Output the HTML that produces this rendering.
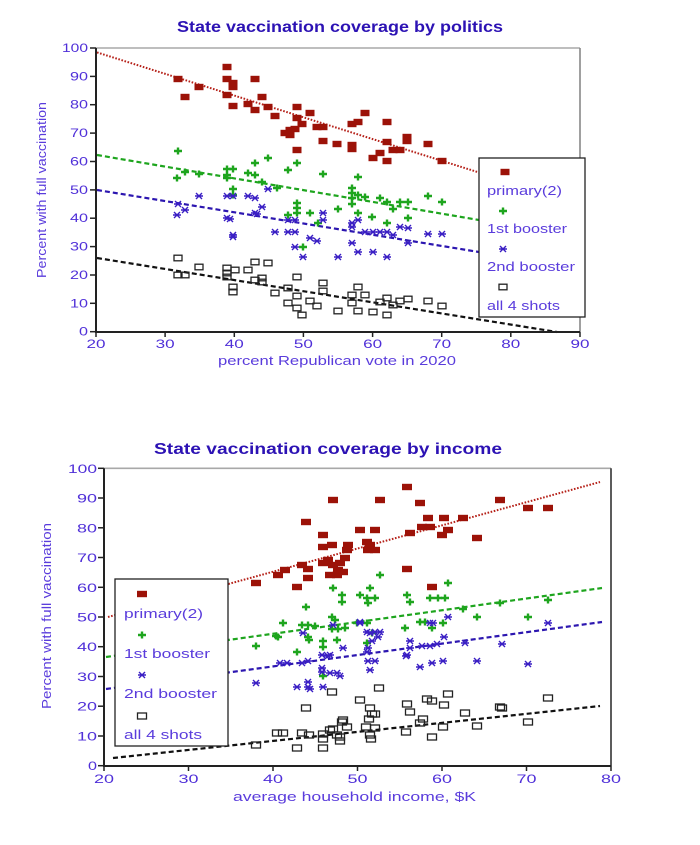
<!DOCTYPE html>
<html><head><meta charset="utf-8"><style>
html,body{margin:0;padding:0;background:#fff;}
svg{display:block;}
text{font-family:"Liberation Sans",Arial,sans-serif;}
.tk{font-size:12px;fill:#4f2fd8;}
.lb{font-size:13px;fill:#5a3cdc;}
.tt{font-size:16px;font-weight:bold;fill:#2c12b4;}
.lg{font-size:13px;fill:#5a3cdc;}
</style></head><body>
<svg width="700" height="845" viewBox="0 0 700 845" xmlns="http://www.w3.org/2000/svg" xmlns:xlink="http://www.w3.org/1999/xlink">
<defs>
<rect id="rs" x="-4.5" y="-3.2" width="9" height="6.4" fill="#9c1208"/>
<rect id="rb" x="-5" y="-3.2" width="10" height="6.4" fill="#9c1208"/>
<path id="gp" d="M-4,0H4M0,-3.5V3.5" stroke="#1ea51e" stroke-width="2.4" fill="none"/>
<path id="ba" d="M-4,0H4M-3,-3L3,3M-3,3L3,-3" stroke="#3a1fc4" stroke-width="1.4" fill="none"/>
<rect id="ks" x="-4" y="-2.8" width="8" height="5.6" fill="none" stroke="#222" stroke-width="1.3"/>
<rect id="kb" x="-4.5" y="-3" width="9" height="6" fill="none" stroke="#222" stroke-width="1.3"/>
</defs>
<rect width="700" height="845" fill="#fff"/>

<!-- ================= TOP CHART ================= -->
<text class="tt" x="177" y="32" textLength="326" lengthAdjust="spacingAndGlyphs">State vaccination coverage by politics</text>

<line x1="96" y1="48" x2="580" y2="48" stroke="#a8a8a8" stroke-width="1.6"/>
<line x1="580" y1="48" x2="580" y2="332" stroke="#888" stroke-width="1.6"/>

<!-- y ticks -->
<g stroke="#222" stroke-width="1.5">
<line x1="90" y1="331.7" x2="96" y2="331.7"/><line x1="90" y1="303.3" x2="96" y2="303.3"/>
<line x1="90" y1="275" x2="96" y2="275"/><line x1="90" y1="246.6" x2="96" y2="246.6"/>
<line x1="90" y1="218.2" x2="96" y2="218.2"/><line x1="90" y1="189.9" x2="96" y2="189.9"/>
<line x1="90" y1="161.5" x2="96" y2="161.5"/><line x1="90" y1="133.1" x2="96" y2="133.1"/>
<line x1="90" y1="104.7" x2="96" y2="104.7"/><line x1="90" y1="76.4" x2="96" y2="76.4"/>
<line x1="90" y1="48" x2="96" y2="48"/>
<line x1="96" y1="332" x2="96" y2="337"/><line x1="165.1" y1="332" x2="165.1" y2="337"/>
<line x1="234.3" y1="332" x2="234.3" y2="337"/><line x1="303.4" y1="332" x2="303.4" y2="337"/>
<line x1="372.6" y1="332" x2="372.6" y2="337"/><line x1="441.7" y1="332" x2="441.7" y2="337"/>
<line x1="510.8" y1="332" x2="510.8" y2="337"/><line x1="580" y1="332" x2="580" y2="337"/>
</g>
<g class="tk" text-anchor="end">
<text x="88" y="335.7" textLength="9" lengthAdjust="spacingAndGlyphs">0</text>
<text x="88" y="307.3" textLength="18" lengthAdjust="spacingAndGlyphs">10</text>
<text x="88" y="279" textLength="18" lengthAdjust="spacingAndGlyphs">20</text>
<text x="88" y="250.6" textLength="18" lengthAdjust="spacingAndGlyphs">30</text>
<text x="88" y="222.2" textLength="18" lengthAdjust="spacingAndGlyphs">40</text>
<text x="88" y="193.9" textLength="18" lengthAdjust="spacingAndGlyphs">50</text>
<text x="88" y="165.5" textLength="18" lengthAdjust="spacingAndGlyphs">60</text>
<text x="88" y="137.1" textLength="18" lengthAdjust="spacingAndGlyphs">70</text>
<text x="88" y="108.7" textLength="18" lengthAdjust="spacingAndGlyphs">80</text>
<text x="88" y="80.4" textLength="18" lengthAdjust="spacingAndGlyphs">90</text>
<text x="88" y="52" textLength="26" lengthAdjust="spacingAndGlyphs">100</text>
</g>
<g class="tk" text-anchor="middle">
<text x="96" y="348" textLength="19" lengthAdjust="spacingAndGlyphs">20</text>
<text x="165.1" y="348" textLength="19" lengthAdjust="spacingAndGlyphs">30</text>
<text x="234.3" y="348" textLength="19" lengthAdjust="spacingAndGlyphs">40</text>
<text x="303.4" y="348" textLength="19" lengthAdjust="spacingAndGlyphs">50</text>
<text x="372.6" y="348" textLength="19" lengthAdjust="spacingAndGlyphs">60</text>
<text x="441.7" y="348" textLength="19" lengthAdjust="spacingAndGlyphs">70</text>
<text x="510.8" y="348" textLength="19" lengthAdjust="spacingAndGlyphs">80</text>
<text x="580" y="348" textLength="19" lengthAdjust="spacingAndGlyphs">90</text>
</g>
<text class="lb" x="218" y="365" textLength="238" lengthAdjust="spacingAndGlyphs">percent Republican vote in 2020</text>
<text class="lb" transform="translate(46,278) rotate(-90)" x="0" y="0" textLength="176" lengthAdjust="spacingAndGlyphs">Percent with full vaccination</text>

<!-- top trend lines -->
<line x1="97" y1="52.4" x2="479" y2="172.5" stroke="#b52018" stroke-width="2" stroke-dasharray="1.6 1.6"/>
<line x1="97" y1="155" x2="479" y2="220" stroke="#1ea51e" stroke-width="2.2" stroke-dasharray="5 3"/>
<line x1="97" y1="190" x2="479" y2="252" stroke="#2c16b0" stroke-width="2.2" stroke-dasharray="5 3"/>
<line x1="97" y1="258" x2="557" y2="332" stroke="#111" stroke-width="2.2" stroke-dasharray="5 3"/>

<!-- top red -->
<g>
<use href="#rs" x="178" y="79"/><use href="#rs" x="185" y="97"/><use href="#rs" x="199" y="87"/><use href="#rs" x="227" y="67"/>
<use href="#rs" x="227" y="79"/><use href="#rs" x="233" y="83"/><use href="#rs" x="233" y="87"/><use href="#rs" x="227" y="95"/>
<use href="#rs" x="233" y="106"/><use href="#rs" x="248" y="104"/><use href="#rs" x="255" y="79"/><use href="#rs" x="255" y="110"/>
<use href="#rs" x="262" y="97"/><use href="#rs" x="268" y="107"/><use href="#rs" x="275" y="116"/><use href="#rs" x="290" y="130"/>
<use href="#rs" x="290" y="135"/><use href="#rs" x="295" y="129"/><use href="#rs" x="285" y="133"/><use href="#rs" x="297" y="107"/>
<use href="#rs" x="297" y="118"/><use href="#rs" x="297" y="150"/><use href="#rs" x="302" y="124"/><use href="#rs" x="310" y="113"/>
<use href="#rs" x="317" y="127"/><use href="#rs" x="323" y="127"/><use href="#rs" x="323" y="141"/><use href="#rs" x="337" y="144"/>
<use href="#rs" x="352" y="145"/><use href="#rs" x="352" y="149"/><use href="#rs" x="352" y="124"/><use href="#rs" x="358" y="122"/>
<use href="#rs" x="365" y="113"/><use href="#rs" x="387" y="122"/><use href="#rs" x="373" y="158"/><use href="#rs" x="380" y="153"/>
<use href="#rs" x="387" y="161"/><use href="#rs" x="387" y="142"/><use href="#rs" x="393" y="150"/><use href="#rs" x="400" y="150"/>
<use href="#rs" x="407" y="141"/><use href="#rs" x="407" y="137"/><use href="#rs" x="428" y="144"/><use href="#rs" x="442" y="161"/>
</g>
<!-- top green -->
<g>
<use href="#gp" x="178" y="151"/><use href="#gp" x="177" y="178"/><use href="#gp" x="185" y="172"/><use href="#gp" x="199" y="174"/>
<use href="#gp" x="227" y="169"/><use href="#gp" x="233" y="169"/><use href="#gp" x="227" y="175"/><use href="#gp" x="227" y="178"/>
<use href="#gp" x="233" y="189"/><use href="#gp" x="233" y="195"/><use href="#gp" x="248" y="173"/><use href="#gp" x="255" y="175"/>
<use href="#gp" x="255" y="163"/><use href="#gp" x="262" y="182"/><use href="#gp" x="268" y="158"/><use href="#gp" x="277" y="188"/>
<use href="#gp" x="288" y="170"/><use href="#gp" x="297" y="163"/><use href="#gp" x="323" y="174"/><use href="#gp" x="297" y="203"/>
<use href="#gp" x="297" y="208"/><use href="#gp" x="297" y="213"/><use href="#gp" x="288" y="215"/><use href="#gp" x="310" y="213"/>
<use href="#gp" x="303" y="247"/><use href="#gp" x="318" y="223"/><use href="#gp" x="338" y="209"/><use href="#gp" x="358" y="177"/>
<use href="#gp" x="352" y="188"/><use href="#gp" x="352" y="193"/><use href="#gp" x="352" y="198"/><use href="#gp" x="352" y="204"/>
<use href="#gp" x="358" y="195"/><use href="#gp" x="365" y="197"/><use href="#gp" x="358" y="213"/><use href="#gp" x="372" y="217"/>
<use href="#gp" x="380" y="198"/><use href="#gp" x="387" y="202"/><use href="#gp" x="387" y="223"/><use href="#gp" x="393" y="209"/>
<use href="#gp" x="400" y="202"/><use href="#gp" x="408" y="202"/><use href="#gp" x="408" y="218"/><use href="#gp" x="428" y="196"/>
<use href="#gp" x="442" y="202"/>
</g>
<!-- top blue -->
<g>
<use href="#ba" x="178" y="204"/><use href="#ba" x="177" y="215"/><use href="#ba" x="185" y="210"/><use href="#ba" x="199" y="196"/>
<use href="#ba" x="227" y="196"/><use href="#ba" x="233" y="196"/><use href="#ba" x="227" y="218"/><use href="#ba" x="230" y="219"/>
<use href="#ba" x="233" y="235"/><use href="#ba" x="233" y="237"/><use href="#ba" x="248" y="196"/><use href="#ba" x="255" y="198"/>
<use href="#ba" x="255" y="213"/><use href="#ba" x="257" y="214"/><use href="#ba" x="262" y="207"/><use href="#ba" x="268" y="189"/>
<use href="#ba" x="275" y="232"/><use href="#ba" x="288" y="220"/><use href="#ba" x="295" y="220"/><use href="#ba" x="288" y="232"/>
<use href="#ba" x="295" y="232"/><use href="#ba" x="295" y="247"/><use href="#ba" x="303" y="257"/><use href="#ba" x="310" y="238"/>
<use href="#ba" x="317" y="241"/><use href="#ba" x="323" y="213"/><use href="#ba" x="323" y="220"/><use href="#ba" x="338" y="257"/>
<use href="#ba" x="352" y="223"/><use href="#ba" x="352" y="227"/><use href="#ba" x="352" y="243"/><use href="#ba" x="358" y="220"/>
<use href="#ba" x="358" y="252"/><use href="#ba" x="365" y="232"/><use href="#ba" x="373" y="232"/><use href="#ba" x="380" y="232"/>
<use href="#ba" x="373" y="252"/><use href="#ba" x="387" y="232"/><use href="#ba" x="393" y="235"/><use href="#ba" x="387" y="257"/>
<use href="#ba" x="400" y="227"/><use href="#ba" x="408" y="228"/><use href="#ba" x="408" y="243"/><use href="#ba" x="428" y="234"/>
<use href="#ba" x="442" y="234"/>
</g>
<!-- top black -->
<g>
<use href="#ks" x="178" y="258"/><use href="#ks" x="178" y="275"/><use href="#ks" x="185" y="275"/><use href="#ks" x="199" y="267"/>
<use href="#ks" x="227" y="268"/><use href="#ks" x="227" y="273"/><use href="#ks" x="235" y="270"/><use href="#ks" x="227" y="277"/>
<use href="#ks" x="233" y="287"/><use href="#ks" x="233" y="292"/><use href="#ks" x="248" y="270"/><use href="#ks" x="255" y="262"/>
<use href="#ks" x="255" y="280"/><use href="#ks" x="262" y="278"/><use href="#ks" x="262" y="282"/><use href="#ks" x="268" y="263"/>
<use href="#ks" x="275" y="293"/><use href="#ks" x="288" y="288"/><use href="#ks" x="288" y="303"/><use href="#ks" x="297" y="277"/>
<use href="#ks" x="297" y="296"/><use href="#ks" x="297" y="308"/><use href="#ks" x="302" y="315"/><use href="#ks" x="310" y="301"/>
<use href="#ks" x="317" y="306"/><use href="#ks" x="323" y="283"/><use href="#ks" x="323" y="291"/><use href="#ks" x="338" y="311"/>
<use href="#ks" x="352" y="295"/><use href="#ks" x="352" y="303"/><use href="#ks" x="358" y="287"/><use href="#ks" x="358" y="311"/>
<use href="#ks" x="365" y="295"/><use href="#ks" x="373" y="312"/><use href="#ks" x="380" y="302"/><use href="#ks" x="387" y="298"/>
<use href="#ks" x="387" y="315"/><use href="#ks" x="393" y="305"/><use href="#ks" x="400" y="301"/><use href="#ks" x="408" y="299"/>
<use href="#ks" x="428" y="301"/><use href="#ks" x="442" y="306"/>
</g>

<line x1="96" y1="48" x2="96" y2="332" stroke="#222" stroke-width="2"/>
<line x1="95" y1="332" x2="580" y2="332" stroke="#222" stroke-width="2"/>

<!-- top legend -->
<rect x="479" y="158" width="106" height="159" fill="#fff" stroke="#222" stroke-width="1.3"/>
<use href="#rs" x="505" y="172"/>
<text class="lg" x="487" y="195" textLength="75" lengthAdjust="spacingAndGlyphs">primary(2)</text>
<use href="#gp" x="503" y="211"/>
<text class="lg" x="487" y="233" textLength="80" lengthAdjust="spacingAndGlyphs">1st booster</text>
<use href="#ba" x="503" y="249"/>
<text class="lg" x="487" y="271" textLength="88" lengthAdjust="spacingAndGlyphs">2nd booster</text>
<use href="#ks" x="503" y="287"/>
<text class="lg" x="487" y="310" textLength="73" lengthAdjust="spacingAndGlyphs">all 4 shots</text>

<!-- ================= BOTTOM CHART ================= -->
<text class="tt" x="154" y="454" textLength="348" lengthAdjust="spacingAndGlyphs">State vaccination coverage by income</text>

<line x1="104" y1="468.3" x2="611" y2="468.3" stroke="#a8a8a8" stroke-width="1.6"/>
<line x1="611" y1="468.3" x2="611" y2="766" stroke="#333" stroke-width="1.6"/>

<g stroke="#222" stroke-width="1.5">
<line x1="98" y1="765.7" x2="104" y2="765.7"/><line x1="98" y1="736" x2="104" y2="736"/>
<line x1="98" y1="706.2" x2="104" y2="706.2"/><line x1="98" y1="676.5" x2="104" y2="676.5"/>
<line x1="98" y1="646.7" x2="104" y2="646.7"/><line x1="98" y1="617" x2="104" y2="617"/>
<line x1="98" y1="587.3" x2="104" y2="587.3"/><line x1="98" y1="557.5" x2="104" y2="557.5"/>
<line x1="98" y1="527.8" x2="104" y2="527.8"/><line x1="98" y1="498" x2="104" y2="498"/>
<line x1="98" y1="468.3" x2="104" y2="468.3"/>
<line x1="104" y1="766" x2="104" y2="771"/><line x1="188.5" y1="766" x2="188.5" y2="771"/>
<line x1="273" y1="766" x2="273" y2="771"/><line x1="357.5" y1="766" x2="357.5" y2="771"/>
<line x1="442" y1="766" x2="442" y2="771"/><line x1="526.5" y1="766" x2="526.5" y2="771"/>
<line x1="611" y1="766" x2="611" y2="771"/>
</g>
<g class="tk" text-anchor="end">
<text x="97" y="770.2" textLength="9" lengthAdjust="spacingAndGlyphs">0</text>
<text x="97" y="740.5" textLength="20" lengthAdjust="spacingAndGlyphs">10</text>
<text x="97" y="710.7" textLength="20" lengthAdjust="spacingAndGlyphs">20</text>
<text x="97" y="681" textLength="20" lengthAdjust="spacingAndGlyphs">30</text>
<text x="97" y="651.2" textLength="20" lengthAdjust="spacingAndGlyphs">40</text>
<text x="97" y="621.5" textLength="20" lengthAdjust="spacingAndGlyphs">50</text>
<text x="97" y="591.8" textLength="20" lengthAdjust="spacingAndGlyphs">60</text>
<text x="97" y="562" textLength="20" lengthAdjust="spacingAndGlyphs">70</text>
<text x="97" y="532.3" textLength="20" lengthAdjust="spacingAndGlyphs">80</text>
<text x="97" y="502.5" textLength="20" lengthAdjust="spacingAndGlyphs">90</text>
<text x="97" y="472.8" textLength="29" lengthAdjust="spacingAndGlyphs">100</text>
</g>
<g class="tk" text-anchor="middle">
<text x="104" y="783" textLength="20" lengthAdjust="spacingAndGlyphs">20</text>
<text x="188.5" y="783" textLength="20" lengthAdjust="spacingAndGlyphs">30</text>
<text x="273" y="783" textLength="20" lengthAdjust="spacingAndGlyphs">40</text>
<text x="357.5" y="783" textLength="20" lengthAdjust="spacingAndGlyphs">50</text>
<text x="442" y="783" textLength="20" lengthAdjust="spacingAndGlyphs">60</text>
<text x="526.5" y="783" textLength="20" lengthAdjust="spacingAndGlyphs">70</text>
<text x="611" y="783" textLength="20" lengthAdjust="spacingAndGlyphs">80</text>
</g>
<text class="lb" x="233" y="801" textLength="243" lengthAdjust="spacingAndGlyphs">average household income, $K</text>
<text class="lb" transform="translate(51,709) rotate(-90)" x="0" y="0" textLength="186" lengthAdjust="spacingAndGlyphs">Percent with full vaccination</text>

<!-- bottom trend lines -->
<line x1="108" y1="617" x2="600" y2="482" stroke="#b52018" stroke-width="2" stroke-dasharray="1.6 1.6"/>
<line x1="106" y1="657" x2="602" y2="588" stroke="#1ea51e" stroke-width="2.2" stroke-dasharray="5 3"/>
<line x1="106" y1="689" x2="602" y2="622" stroke="#2c16b0" stroke-width="2.2" stroke-dasharray="5 3"/>
<line x1="113" y1="758" x2="600" y2="706" stroke="#111" stroke-width="2.2" stroke-dasharray="5 3"/>

<!-- bottom red -->
<g>
<use href="#rb" x="256" y="583"/><use href="#rb" x="278" y="575"/><use href="#rb" x="285" y="570"/><use href="#rb" x="302" y="565"/>
<use href="#rb" x="308" y="569"/><use href="#rb" x="308" y="578"/><use href="#rb" x="297" y="587"/><use href="#rb" x="306" y="522"/>
<use href="#rb" x="323" y="535"/><use href="#rb" x="323" y="547"/><use href="#rb" x="332" y="545"/><use href="#rb" x="323" y="563"/>
<use href="#rb" x="333" y="500"/><use href="#rb" x="328" y="560"/><use href="#rb" x="333" y="565"/><use href="#rb" x="338" y="570"/>
<use href="#rb" x="343" y="572"/><use href="#rb" x="330" y="575"/><use href="#rb" x="337" y="575"/><use href="#rb" x="345" y="558"/>
<use href="#rb" x="347" y="550"/><use href="#rb" x="348" y="545"/><use href="#rb" x="340" y="563"/><use href="#rb" x="360" y="530"/>
<use href="#rb" x="375" y="530"/><use href="#rb" x="367" y="542"/><use href="#rb" x="370" y="545"/><use href="#rb" x="368" y="550"/>
<use href="#rb" x="375" y="550"/><use href="#rb" x="380" y="500"/><use href="#rb" x="407" y="487"/><use href="#rb" x="420" y="503"/>
<use href="#rb" x="407" y="569"/><use href="#rb" x="410" y="533"/><use href="#rb" x="422" y="527"/><use href="#rb" x="430" y="527"/>
<use href="#rb" x="428" y="518"/><use href="#rb" x="444" y="518"/><use href="#rb" x="442" y="535"/><use href="#rb" x="448" y="530"/>
<use href="#rb" x="432" y="587"/><use href="#rb" x="463" y="518"/><use href="#rb" x="477" y="538"/><use href="#rb" x="500" y="500"/>
<use href="#rb" x="528" y="508"/><use href="#rb" x="548" y="508"/>
</g>
<!-- bottom green -->
<g>
<use href="#gp" x="256" y="646"/><use href="#gp" x="278" y="637"/><use href="#gp" x="283" y="623"/><use href="#gp" x="297" y="652"/>
<use href="#gp" x="302" y="625"/><use href="#gp" x="308" y="625"/><use href="#gp" x="306" y="607"/><use href="#gp" x="308" y="637"/>
<use href="#gp" x="309" y="640"/><use href="#gp" x="323" y="641"/><use href="#gp" x="323" y="647"/><use href="#gp" x="323" y="676"/>
<use href="#gp" x="332" y="617"/><use href="#gp" x="335" y="620"/><use href="#gp" x="332" y="629"/><use href="#gp" x="338" y="629"/>
<use href="#gp" x="333" y="588"/><use href="#gp" x="342" y="595"/><use href="#gp" x="342" y="602"/><use href="#gp" x="345" y="628"/>
<use href="#gp" x="337" y="640"/><use href="#gp" x="360" y="595"/><use href="#gp" x="367" y="598"/><use href="#gp" x="375" y="598"/>
<use href="#gp" x="368" y="603"/><use href="#gp" x="370" y="588"/><use href="#gp" x="357" y="623"/><use href="#gp" x="367" y="623"/>
<use href="#gp" x="367" y="643"/><use href="#gp" x="372" y="633"/><use href="#gp" x="380" y="575"/><use href="#gp" x="407" y="595"/>
<use href="#gp" x="410" y="602"/><use href="#gp" x="405" y="628"/><use href="#gp" x="420" y="622"/><use href="#gp" x="425" y="622"/>
<use href="#gp" x="430" y="598"/><use href="#gp" x="438" y="598"/><use href="#gp" x="445" y="598"/><use href="#gp" x="432" y="628"/>
<use href="#gp" x="443" y="623"/><use href="#gp" x="448" y="583"/><use href="#gp" x="463" y="609"/><use href="#gp" x="477" y="617"/>
<use href="#gp" x="500" y="603"/><use href="#gp" x="528" y="617"/><use href="#gp" x="548" y="600"/><use href="#gp" x="315" y="626"/>
<use href="#gp" x="276" y="636"/>
</g>
<!-- bottom blue -->
<g>
<use href="#ba" x="256" y="683"/><use href="#ba" x="297" y="687"/><use href="#ba" x="308" y="687"/><use href="#ba" x="308" y="682"/>
<use href="#ba" x="323" y="687"/><use href="#ba" x="310" y="689"/><use href="#ba" x="303" y="633"/><use href="#ba" x="280" y="663"/>
<use href="#ba" x="287" y="663"/><use href="#ba" x="302" y="663"/><use href="#ba" x="308" y="661"/><use href="#ba" x="322" y="668"/>
<use href="#ba" x="322" y="672"/><use href="#ba" x="330" y="673"/><use href="#ba" x="322" y="655"/><use href="#ba" x="328" y="656"/>
<use href="#ba" x="333" y="625"/><use href="#ba" x="337" y="673"/><use href="#ba" x="340" y="676"/><use href="#ba" x="343" y="648"/>
<use href="#ba" x="330" y="655"/><use href="#ba" x="360" y="623"/><use href="#ba" x="367" y="652"/><use href="#ba" x="368" y="661"/>
<use href="#ba" x="375" y="661"/><use href="#ba" x="370" y="670"/><use href="#ba" x="372" y="641"/><use href="#ba" x="380" y="632"/>
<use href="#ba" x="367" y="632"/><use href="#ba" x="375" y="632"/><use href="#ba" x="378" y="637"/><use href="#ba" x="407" y="655"/>
<use href="#ba" x="410" y="641"/><use href="#ba" x="420" y="667"/><use href="#ba" x="432" y="663"/><use href="#ba" x="443" y="661"/>
<use href="#ba" x="422" y="646"/><use href="#ba" x="430" y="646"/><use href="#ba" x="437" y="644"/><use href="#ba" x="430" y="623"/>
<use href="#ba" x="433" y="623"/><use href="#ba" x="444" y="637"/><use href="#ba" x="448" y="617"/><use href="#ba" x="465" y="643"/>
<use href="#ba" x="477" y="661"/><use href="#ba" x="502" y="644"/><use href="#ba" x="528" y="664"/><use href="#ba" x="548" y="623"/>
<use href="#ba" x="360" y="622"/><use href="#ba" x="370" y="633"/><use href="#ba" x="368" y="648"/><use href="#ba" x="406" y="656"/>
<use href="#ba" x="410" y="648"/>
</g>
<!-- bottom black -->
<g>
<use href="#kb" x="256" y="745"/><use href="#kb" x="277" y="733"/><use href="#kb" x="283" y="733"/><use href="#kb" x="297" y="748"/>
<use href="#kb" x="302" y="733"/><use href="#kb" x="309" y="735"/><use href="#kb" x="306" y="708"/><use href="#kb" x="323" y="734"/>
<use href="#kb" x="323" y="739"/><use href="#kb" x="323" y="748"/><use href="#kb" x="332" y="692"/><use href="#kb" x="330" y="730"/>
<use href="#kb" x="333" y="729"/><use href="#kb" x="340" y="737"/><use href="#kb" x="340" y="741"/><use href="#kb" x="343" y="720"/>
<use href="#kb" x="342" y="722"/><use href="#kb" x="347" y="727"/><use href="#kb" x="337" y="735"/><use href="#kb" x="360" y="700"/>
<use href="#kb" x="370" y="708"/><use href="#kb" x="372" y="714"/><use href="#kb" x="369" y="719"/><use href="#kb" x="375" y="714"/>
<use href="#kb" x="366" y="727"/><use href="#kb" x="375" y="728"/><use href="#kb" x="370" y="735"/><use href="#kb" x="371" y="739"/>
<use href="#kb" x="379" y="688"/><use href="#kb" x="407" y="704"/><use href="#kb" x="410" y="712"/><use href="#kb" x="406" y="732"/>
<use href="#kb" x="423" y="719"/><use href="#kb" x="420" y="723"/><use href="#kb" x="427" y="699"/><use href="#kb" x="432" y="701"/>
<use href="#kb" x="432" y="737"/><use href="#kb" x="443" y="727"/><use href="#kb" x="444" y="705"/><use href="#kb" x="448" y="694"/>
<use href="#kb" x="465" y="713"/><use href="#kb" x="477" y="726"/><use href="#kb" x="500" y="707"/><use href="#kb" x="502" y="708"/>
<use href="#kb" x="528" y="722"/><use href="#kb" x="548" y="698"/>
</g>

<line x1="104" y1="468.3" x2="104" y2="766" stroke="#222" stroke-width="2"/>
<line x1="103" y1="766" x2="611" y2="766" stroke="#222" stroke-width="2"/>

<!-- bottom legend -->
<rect x="115" y="579" width="113" height="167" fill="#fff" stroke="#222" stroke-width="1.3"/>
<use href="#rb" x="142" y="594"/>
<text class="lg" x="124" y="618" textLength="79" lengthAdjust="spacingAndGlyphs">primary(2)</text>
<use href="#gp" x="142" y="635"/>
<text class="lg" x="124" y="658" textLength="86" lengthAdjust="spacingAndGlyphs">1st booster</text>
<use href="#ba" x="142" y="675"/>
<text class="lg" x="124" y="698" textLength="93" lengthAdjust="spacingAndGlyphs">2nd booster</text>
<use href="#kb" x="142" y="716"/>
<text class="lg" x="124" y="739" textLength="78" lengthAdjust="spacingAndGlyphs">all 4 shots</text>
</svg>
</body></html>
